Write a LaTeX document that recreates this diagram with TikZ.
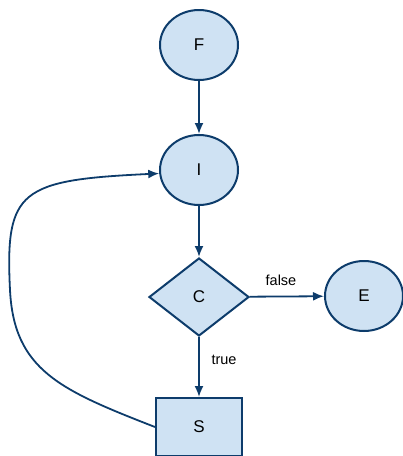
\documentclass[tikz,border=0pt]{standalone}
\usepackage{fontspec}
\setmainfont{Liberation Sans}
\usetikzlibrary{shapes.geometric,arrows.meta}
\definecolor{nodefill}{HTML}{CFE2F3}
\definecolor{edgecol}{HTML}{0D3C6B}
\begin{document}
\begin{tikzpicture}[x=1pt,y=-1pt,
  base/.style={draw=edgecol,fill=nodefill,line width=2pt,inner sep=0pt,font=\fontsize{17}{20}\selectfont},
  ell/.style={base,ellipse,minimum width=78pt,minimum height=70pt},
  dia/.style={base,diamond,minimum width=100pt,minimum height=78pt},
  box/.style={base,rectangle,minimum width=86pt,minimum height=58pt},
  conn/.style={draw=edgecol,line width=1.8pt,-{Latex[length=11pt,width=9pt]}},
  lbl/.style={font=\fontsize{14.5}{17}\selectfont,inner sep=0pt}]
\useasboundingbox (0,0) rectangle (403,456);
\node[ell] (F) at (199,45) {F};
\node[ell] (I) at (199,170) {I};
\node[dia] (C) at (199,297) {C};
\node[ell] (E) at (364,296) {E};
\node[box] (S) at (199,427) {S};
\draw[conn] (F) -- (I);
\draw[conn] (I) -- (C);
\draw[conn] (C) -- (E);
\draw[conn] (C) -- (S);
\node[lbl] (lf) at (281,280) {false};
\node[lbl] (lt) at (224,360) {true};
\draw[conn] (S.west) .. controls (60,390) and (14,370) .. (10,290)
  .. controls (5,190) and (20,180) .. (I.185);
\end{tikzpicture}
\end{document}
